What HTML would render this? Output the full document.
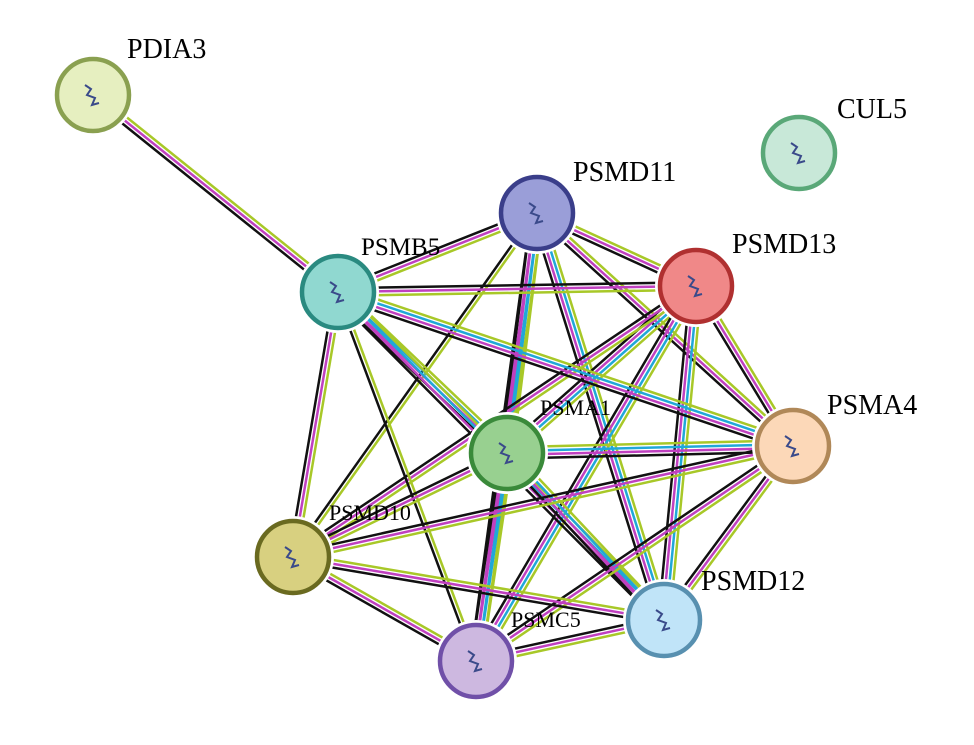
<!DOCTYPE html>
<html><head><meta charset="utf-8"><style>
html,body{margin:0;padding:0;background:#fff;}
svg{display:block;}
text{font-family:"Liberation Serif",serif;fill:#000;}
</style></head><body>
<svg id="s" width="974" height="745" viewBox="0 0 974 745" xmlns="http://www.w3.org/2000/svg">
<g id="edges"></g>
<g id="nodes"></g>
<text x="127" y="58" font-size="28">PDIA3</text>
<text x="837" y="118" font-size="28">CUL5</text>
<text x="573" y="181" font-size="28">PSMD11</text>
<text x="732" y="253" font-size="28">PSMD13</text>
<text x="361" y="255" font-size="25">PSMB5</text>
<text x="540" y="415" font-size="22">PSMA1</text>
<text x="827" y="414" font-size="28">PSMA4</text>
<text x="329" y="520" font-size="22">PSMD10</text>
<text x="701" y="590" font-size="28">PSMD12</text>
<text x="511" y="627" font-size="22">PSMC5</text>
</svg>
<script>
var N={
PDIA3:[93,95,"#e6efc0","#8aa050"],
CUL5:[799,153,"#c8e8d8","#5aa878"],
PSMD11:[537,213,"#9a9ed8","#3a3e8a"],
PSMD13:[696,286,"#f08888","#b03030"],
PSMB5:[338,292,"#90d8d0","#2a8a80"],
PSMA1:[507,453,"#98d090","#3a8a3a"],
PSMA4:[793,446,"#fcd8b8","#b08858"],
PSMD10:[293,557,"#d8d080","#6a6a20"],
PSMD12:[664,620,"#c0e4f8","#5890b0"],
PSMC5:[476,661,"#cdb8e0","#7050a8"]};
var K="#111",M="#c040c0",G="#a8c828",C="#20a8d8",B="#6060d0";
var full=[G,C,M,K],std=[G,M,K];
var E=[["PDIA3","PSMB5",std]];
var core=["PSMD11","PSMD13","PSMB5","PSMA1","PSMA4","PSMD10","PSMD12","PSMC5"];
var cy={"PSMB5-PSMA1":1,"PSMD11-PSMA1":1,"PSMD13-PSMA1":1,"PSMA1-PSMA4":1,"PSMA1-PSMD12":1,"PSMA1-PSMC5":1,"PSMD13-PSMD12":1,"PSMB5-PSMA4":1,"PSMD11-PSMD12":1,"PSMD11-PSMC5":1,"PSMD13-PSMC5":1,"PSMB5-PSMD12":1};
var bo={"PSMD10-PSMA4":1,"PSMB5-PSMC5":1,"PSMD11-PSMD10":1};
for(var i=0;i<core.length;i++)for(var j=i+1;j<core.length;j++){
 var k=core[i]+"-"+core[j];
 E.push([core[i],core[j],cy[k]?full:(bo[k]?[G,K]:std)]);
}
var eg=document.getElementById("edges"),h="";
E.forEach(function(e){
 var a=N[e[0]],b=N[e[1]],dx=b[0]-a[0],dy=b[1]-a[1],L=Math.hypot(dx,dy),px=-dy/L,py=dx/L,n=e[2].length;
 e[2].forEach(function(c,t){var o=(t-(n-1)/2)*3.8;
  h+='<line x1="'+(a[0]+px*o)+'" y1="'+(a[1]+py*o)+'" x2="'+(b[0]+px*o)+'" y2="'+(b[1]+py*o)+'" stroke="'+c+'" stroke-width="2.5"/>';});
});
eg.innerHTML=h;
var g="";
for(var k in N){var v=N[k];
 g+='<circle cx="'+v[0]+'" cy="'+v[1]+'" r="41" fill="#fff"/>';
 g+='<circle cx="'+v[0]+'" cy="'+v[1]+'" r="36" fill="'+v[2]+'" stroke="'+v[3]+'" stroke-width="4.5"/>';
 g+='<path d="M'+(v[0]-8)+' '+(v[1]-10)+' l6 4 -4 6 8 3 -3 7 7 -2" fill="none" stroke="#3a4a8a" stroke-width="2"/>';
}
document.getElementById("nodes").innerHTML=g;
</script>
</body></html>
